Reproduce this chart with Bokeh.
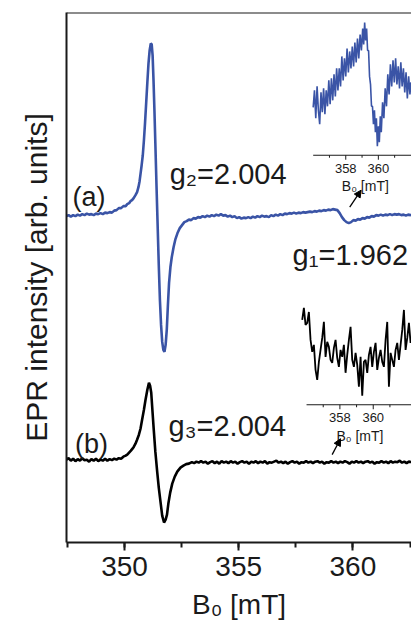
import numpy as np
from bokeh.plotting import figure
from bokeh.models import (Range1d, Span, Arrow, NormalHead,
                          SingleIntervalTicker, FixedTicker)
from bokeh.core.properties import value
from bokeh.embed import file_html
from bokeh.resources import INLINE

FONT = "Liberation Sans"
BLUE = "#3A54A6"
INK = "#1a1a1a"

# ---------------- main spectra (B0 in mT, intensity in arb. units) -------------
field_a = [
    347.46, 347.55, 347.65, 347.75, 347.85, 347.95, 348.05, 348.15, 348.25, 348.35,
    348.45, 348.55, 348.65, 348.75, 348.85, 348.95, 349.05, 349.15, 349.25, 349.35,
    349.45, 349.55, 349.65, 349.75, 349.85, 349.95, 350.05, 350.12, 350.20, 350.26,
    350.33, 350.40, 350.48, 350.55, 350.61, 350.66, 350.70, 350.75, 350.80, 350.85,
    350.90, 350.95, 351.00, 351.05, 351.10, 351.15, 351.19, 351.23, 351.27, 351.31,
    351.35, 351.40, 351.45, 351.50, 351.55, 351.60, 351.65, 351.70, 351.75, 351.80,
    351.85, 351.90, 351.95, 352.01, 352.07, 352.15, 352.23, 352.32, 352.42, 352.52,
    352.62, 352.72, 352.82, 352.92, 353.02, 353.12, 353.22, 353.32, 353.42, 353.52,
    353.62, 353.72, 353.82, 353.92, 354.02, 354.12, 354.22, 354.32, 354.42, 354.52,
    354.62, 354.72, 354.82, 354.92, 355.02, 355.12, 355.22, 355.32, 355.42, 355.52,
    355.62, 355.72, 355.82, 355.92, 356.02, 356.12, 356.22, 356.32, 356.42, 356.52,
    356.62, 356.72, 356.82, 356.92, 357.02, 357.12, 357.22, 357.32, 357.42, 357.52,
    357.62, 357.72, 357.82, 357.92, 358.02, 358.12, 358.22, 358.32, 358.42, 358.52,
    358.62, 358.72, 358.82, 358.92, 359.02, 359.12, 359.22, 359.32, 359.42, 359.52,
    359.62, 359.72, 359.82, 359.92, 360.02, 360.12, 360.22, 360.32, 360.42, 360.52,
    360.62, 360.72, 360.82, 360.92, 361.02, 361.12, 361.22, 361.32, 361.42, 361.52,
    361.62, 361.72, 361.82, 361.92, 362.02, 362.12, 362.22, 362.32, 362.42, 362.52,
    362.60]
intensity_a = [
    -1, 0, -1.5, 0, -1, 0.5, -0.5, 1, 0, 1.5,
    0.5, 1, 0, 1.5, 1, 2, 1, 2.5, 2, 3,
    2.5, 4.5, 5, 7, 7, 9, 9, 11, 12, 14,
    15, 17, 20, 23, 28, 34, 41, 50, 60, 75,
    93, 113, 133, 152, 165, 172, 171, 160, 135, 105,
    72, 30, -10, -50, -85, -110, -127, -135, -137, -130,
    -115, -90, -68, -52, -42, -32, -24, -18, -13, -10,
    -7, -6, -4.5, -5, -3, -3.5, -2, -2.5, -1, -2,
    -0.5, -1.5, 0, -1, 0.5, -0.5, 1, -0.5, 0, -1.5,
    -0.5, -2, -1, -3, -2, -3.5, -2.5, -3, -2, -3,
    -1.5, -2.5, -1, -2, -0.5, -1.5, -1, -2, 0, -1,
    0.5, -0.5, 1, 0, 1.5, 1, 2, 1.5, 2.5, 1.5,
    2.5, 2, 3, 2.5, 3, 3.5, 3, 4, 3.5, 4.5,
    4, 5, 4.5, 5.5, 5, 6, 5.5, 5, 2, -2,
    -5, -7, -8, -7, -5, -5.5, -4, -4.5, -3, -3.5,
    -2, -2.5, -1, -1.5, 0, -0.5, 0.5, -0.5, 0.5, 0,
    1, 0, 1, 0.5, 1, 0, 0.5, -0.5, 0.5, 0,
    0.5]

field_b = [
    347.46, 347.55, 347.65, 347.75, 347.85, 347.95, 348.05, 348.15, 348.25, 348.35,
    348.45, 348.55, 348.65, 348.75, 348.85, 348.95, 349.05, 349.15, 349.25, 349.35,
    349.45, 349.55, 349.65, 349.75, 349.85, 349.95, 350.05, 350.12, 350.20, 350.28,
    350.35, 350.41, 350.48, 350.55, 350.63, 350.70, 350.77, 350.85, 350.92, 351.00,
    351.07, 351.12, 351.17, 351.22, 351.28, 351.35, 351.43, 351.50, 351.58, 351.65,
    351.73, 351.80, 351.86, 351.92, 352.00, 352.09, 352.20, 352.31, 352.45, 352.58,
    352.70, 352.82, 352.95, 353.05, 353.15, 353.25, 353.35, 353.45, 353.55, 353.65,
    353.75, 353.85, 353.95, 354.05, 354.15, 354.25, 354.35, 354.45, 354.55, 354.65,
    354.75, 354.85, 354.95, 355.05, 355.15, 355.25, 355.35, 355.45, 355.55, 355.65,
    355.75, 355.85, 355.95, 356.05, 356.15, 356.25, 356.35, 356.45, 356.55, 356.65,
    356.75, 356.85, 356.95, 357.05, 357.15, 357.25, 357.35, 357.45, 357.55, 357.65,
    357.75, 357.85, 357.95, 358.05, 358.15, 358.25, 358.35, 358.45, 358.55, 358.65,
    358.75, 358.85, 358.95, 359.05, 359.15, 359.25, 359.35, 359.45, 359.55, 359.65,
    359.75, 359.85, 359.95, 360.05, 360.15, 360.25, 360.35, 360.45, 360.55, 360.65,
    360.75, 360.85, 360.95, 361.05, 361.15, 361.25, 361.35, 361.45, 361.55, 361.65,
    361.75, 361.85, 361.95, 362.05, 362.15, 362.25, 362.35, 362.45, 362.60]
intensity_b = [
    0, 1.5, -1, 1, -1.5, 0.5, -1, 1.5, -0.5, 0,
    -2, 0.5, -1, 1, -1.5, 0, -1, 1, -1, 0.5,
    -0.5, 1, 0, 1.5, 1, 3, 4, 5, 7, 9,
    11, 13, 16, 20, 25, 31, 40, 50, 60, 70,
    77, 74, 67, 50, 30, 8, -12, -28, -43, -56,
    -63, -60, -55, -44, -33, -24, -17, -12, -8, -6,
    -4.5, -4, -2.5, -3.5, -2, -3, -1.5, -3, -2, -4,
    -2.5, -1.5, -3.5, -2, -4, -1.5, -3, -2, -3.5, -1.5,
    -3, -2, -4, -2.5, -1.5, -3, -2, -4, -2, -3,
    -1.5, -3.5, -2, -3, -1.5, -4, -2.5, -3, -2, -1,
    -3, -2, -3.5, -2, -4, -2.5, -1.5, -3, -2, -4,
    -2.5, -3, -1.5, -3, -2, -3.5, -2, -1.5, -3, -2,
    -4, -2.5, -3, -1.5, -3, -2, -3.5, -2, -3, -1.5,
    -2.5, -4, -2, -3, -1.5, -3, -2, -3.5, -2, -1.5,
    -3, -2, -4, -2.5, -3, -1.5, -3, -2, -3.5, -1.5,
    -3, -2, -2.5, -1, -3, -2, -3.5, -2, -2.5]

# vertical offsets of the two stacked spectra
offsets = {"a": 328, "b": 83}

# ---------------- inset (a): zoom on the g1 region of spectrum (a) ----------------
inset_a_field = [
    356.00, 356.08, 356.16, 356.24, 356.32, 356.40, 356.48, 356.56, 356.64, 356.72,
    356.80, 356.88, 356.96, 357.04, 357.12, 357.20, 357.28, 357.36, 357.44, 357.52,
    357.60, 357.68, 357.76, 357.84, 357.92, 358.00, 358.08, 358.16, 358.24, 358.32,
    358.40, 358.48, 358.56, 358.64, 358.72, 358.80, 358.88, 358.96, 359.04, 359.10,
    359.16, 359.22, 359.28, 359.34, 359.40, 359.46, 359.52, 359.58, 359.64, 359.70,
    359.76, 359.82, 359.88, 359.94, 360.00, 360.06, 360.12, 360.18, 360.26, 360.34,
    360.42, 360.50, 360.58, 360.66, 360.74, 360.82, 360.90, 360.98, 361.06, 361.14,
    361.22, 361.30, 361.38, 361.46, 361.54, 361.62, 361.70, 361.78, 361.86, 361.94,
    362.00]
inset_a_intensity = [
    43, 60, 32, 64, 40, 26, 58, 38, 62, 36,
    60, 44, 70, 46, 72, 50, 76, 54, 82, 60,
    82, 64, 94, 70, 92, 74, 102, 78, 99, 82,
    104, 84, 108, 88, 112, 92, 116, 100, 122, 106,
    128, 110, 122, 100, 100, 74, 66, 44, 44, 26,
    40, 18, 32, 4, 24, 8, 34, 18, 48, 32,
    62, 44, 76, 56, 86, 64, 90, 68, 92, 66,
    84, 62, 88, 64, 82, 58, 78, 52, 74, 56,
    68]

# ---------------- inset (b): same field region for spectrum (b) ----------------
inset_b_field = [
    355.74, 355.84, 355.94, 356.04, 356.14, 356.24, 356.34, 356.44, 356.54, 356.64,
    356.74, 356.84, 356.94, 357.04, 357.14, 357.24, 357.34, 357.44, 357.54, 357.64,
    357.74, 357.84, 357.94, 358.04, 358.14, 358.24, 358.34, 358.44, 358.54, 358.64,
    358.74, 358.84, 358.94, 359.04, 359.14, 359.24, 359.34, 359.44, 359.54, 359.64,
    359.74, 359.84, 359.94, 360.04, 360.14, 360.24, 360.34, 360.44, 360.54, 360.64,
    360.74, 360.84, 360.94, 361.04, 361.14, 361.24, 361.34, 361.44, 361.54, 361.64,
    361.74, 361.84, 361.94, 362.04, 362.14, 362.24, 362.34]
inset_b_intensity = [
    80, 92, 75, 77, 88, 60, 48, 55, 30, 20,
    38, 50, 62, 78, 43, 58, 53, 40, 37, 52,
    60, 42, 33, 50, 43, 55, 27, 45, 60, 73,
    40, 33, 47, 35, 13, 43, 4, 38, 40, 27,
    45, 53, 33, 48, 57, 30, 42, 50, 38, 33,
    60, 78, 13, 47, 40, 33, 50, 57, 40, 55,
    70, 90, 50, 62, 77, 57, 66]

inset_major_ticks = [358, 360]
inset_minor_ticks = [357, 359, 361]
inset_tick_labels = ["358", "360"]
inset_axis_span = [356, 362.8]

# ---------------- annotations ----------------
label_text = ["(a)", "(b)"]
label_x = [347.72, 347.83]
label_y = [346.5, 99]
g_text = ["g\u2082=2.004", "g\u2081=1.962", "g\u2083=2.004"]
g_x = [351.98, 357.36, 351.93]
g_y = [369.5, 288, 116.5]
arrow_x_start = [359.86, 359.09]
arrow_y_start = [336, 88]
arrow_x_end = [360.36, 359.46]
arrow_y_end = [353, 104]

# ---------------- figure ----------------
p = figure(width=411, height=622, x_range=Range1d(347.46, 362.565),
           y_range=Range1d(0, 531), output_backend="svg",
           toolbar_location=None, title=None,
           min_border_left=66, min_border_right=0,
           min_border_top=12, min_border_bottom=79)
p.outline_line_color = None
p.grid.visible = False

p.xaxis.ticker = SingleIntervalTicker(interval=5, num_minor_ticks=2)
p.xaxis.major_label_text_font = FONT
p.xaxis.major_label_text_font_size = "28px"
p.xaxis.major_label_text_color = INK
p.xaxis.axis_line_width = 2
p.xaxis.axis_line_color = INK
p.xaxis.major_tick_line_width = 2
p.xaxis.minor_tick_line_width = 2
p.xaxis.major_tick_line_color = INK
p.xaxis.minor_tick_line_color = INK
p.xaxis.major_tick_out = 8
p.xaxis.major_tick_in = 0
p.xaxis.minor_tick_out = 5
p.xaxis.minor_tick_in = 0
p.xaxis.major_label_standoff = 6
p.xaxis.axis_label = "B\u2080 [mT]"
p.xaxis.axis_label_text_font = FONT
p.xaxis.axis_label_text_font_size = "28px"
p.xaxis.axis_label_text_font_style = "normal"
p.xaxis.axis_label_text_color = INK
p.xaxis.axis_label_standoff = 10

p.yaxis.ticker = FixedTicker(ticks=[])
p.yaxis.major_tick_out = 0
p.yaxis.minor_tick_out = 0
p.yaxis.major_label_standoff = 0
p.yaxis.axis_line_width = 2
p.yaxis.axis_line_color = INK
p.yaxis.axis_label = "EPR intensity [arb. units]"
p.yaxis.axis_label_text_font = FONT
p.yaxis.axis_label_text_font_size = "30px"
p.yaxis.axis_label_text_font_style = "normal"
p.yaxis.axis_label_text_color = INK
p.yaxis.axis_label_standoff = 14

p.add_layout(Span(location=531, dimension="width", line_color=INK, line_width=2))

ya = np.array(intensity_a) + offsets["a"]
yb = np.array(intensity_b) + offsets["b"]
p.line(field_a, ya, line_color=BLUE, line_width=2.6)
p.line(field_b, yb, line_color="black", line_width=2.6)

p.text(x=label_x, y=label_y, text=label_text, text_font=value(FONT),
       text_font_size="27px", text_color=INK, text_baseline="alphabetic")
p.text(x=g_x, y=g_y, text=g_text, text_font=value(FONT),
       text_font_size="29px", text_color=INK, text_baseline="alphabetic")

for xs, ys, xe, ye in zip(arrow_x_start, arrow_y_start, arrow_x_end, arrow_y_end):
    p.add_layout(Arrow(end=NormalHead(size=7, fill_color="black", line_color="black"),
                       x_start=xs, y_start=ys, x_end=xe, y_end=ye,
                       line_color="black", line_width=1.3))


def draw_inset(sub, fx, fy, color, width):
    sub.line(fx, fy, line_color=color, line_width=width)
    sub.line(inset_axis_span, [-5, -5], line_color=INK, line_width=1.2)
    sub.segment(x0=inset_major_ticks, x1=inset_major_ticks, y0=[-5] * 2, y1=[-9.5] * 2,
                line_color=INK, line_width=1)
    sub.segment(x0=inset_minor_ticks, x1=inset_minor_ticks, y0=[-5] * 3, y1=[-7.5] * 3,
                line_color=INK, line_width=1)
    sub.text(x=inset_major_ticks, y=[-18] * 2, text=inset_tick_labels,
             text_font=value(FONT), text_font_size="13px", text_color=INK,
             text_align="center", text_baseline="middle")
    sub.text(x=[359.2], y=[-36], text=["B\u2080 [mT]"], text_font=value(FONT),
             text_font_size="14px", text_color=INK, text_align="center",
             text_baseline="alphabetic")


sub_a = p.subplot(x_source=Range1d(356, 362), y_source=Range1d(0, 150),
                  x_target=Range1d(358.26, 362.54), y_target=Range1d(393, 543))
draw_inset(sub_a, inset_a_field, inset_a_intensity, BLUE, 1.6)

sub_b = p.subplot(x_source=Range1d(356, 362), y_source=Range1d(0, 100),
                  x_target=Range1d(357.97, 362.35), y_target=Range1d(143, 243))
draw_inset(sub_b, inset_b_field, inset_b_intensity, "black", 1.8)

open("out.html", "w").write(file_html(p, INLINE))
